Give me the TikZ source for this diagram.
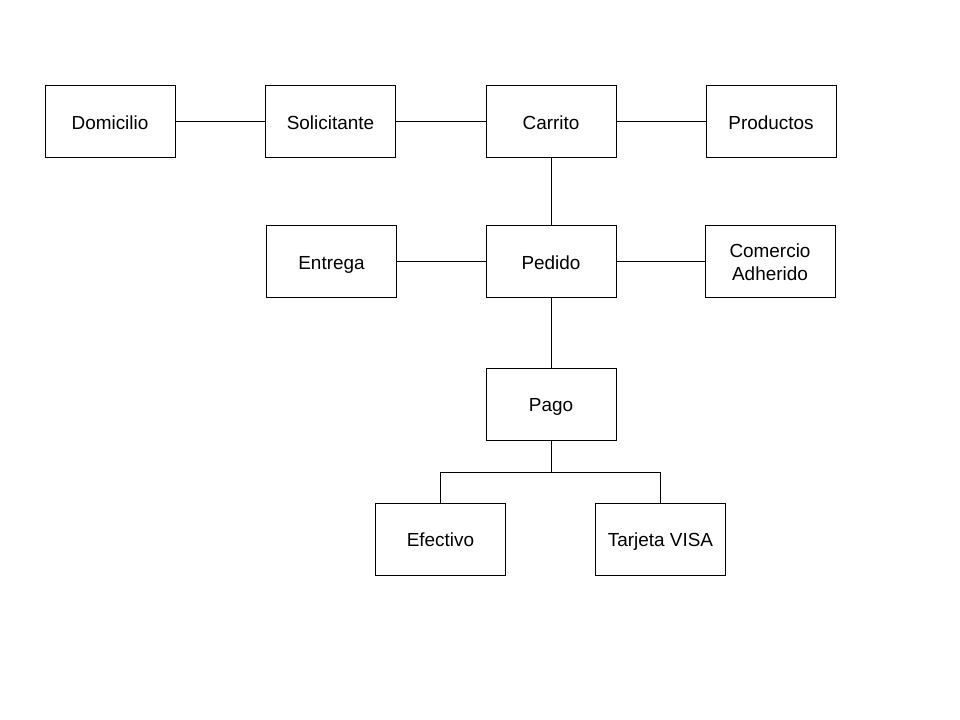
\documentclass[tikz,border=0pt]{standalone}
\usepackage{fontspec}
\setmainfont{Liberation Sans}
\usepackage{tikz}
\usetikzlibrary{positioning}

\begin{document}
\begin{tikzpicture}[x=0.75pt,y=-0.75pt,
  caja/.style={draw,line width=0.75pt,minimum width=97.5pt,minimum height=54pt,
    align=center,font=\fontsize{14.2}{17.5}\selectfont,inner sep=0pt,
    text height=12pt,text depth=1pt}]
 \useasboundingbox (0,0) rectangle (960,720);
 % fila de arriba
 \node[caja] (domicilio) at (110,122) {Domicilio};
 \node[caja] (solicitante) at (330.5,122) {Solicitante};
 \node[caja] (carrito) at (551,122) {Carrito};
 \node[caja] (productos) at (771,122) {Productos};
 % fila del medio
 \node[caja] (entrega) at (331.5,262) {Entrega};
 \node[caja] (pedido) at (551,262) {Pedido};
 \node[caja,text height=,text depth=] (comercio) at (770,262) {Comercio\\Adherido};
 % pago
 \node[caja] (pago) at (551,404) {Pago};
 \node[caja] (efectivo) at (440.5,539) {Efectivo};
 \node[caja] (tarjeta) at (660.5,539) {Tarjeta VISA};
 \coordinate (rama) at (551,472);
 \draw[line width=0.75pt] (domicilio) -- (solicitante);
 \draw[line width=0.75pt] (solicitante) -- (carrito);
 \draw[line width=0.75pt] (carrito) -- (productos);
 \draw[line width=0.75pt] (carrito) -- (pedido);
 \draw[line width=0.75pt] (entrega) -- (pedido);
 \draw[line width=0.75pt] (pedido) -- (comercio);
 \draw[line width=0.75pt] (pedido) -- (pago);
 \draw[line width=0.75pt] (pago.south) -- (rama);
 \draw[line width=0.75pt] (rama) -| (efectivo.north);
 \draw[line width=0.75pt] (rama) -| (tarjeta.north);
\end{tikzpicture}
\end{document}
